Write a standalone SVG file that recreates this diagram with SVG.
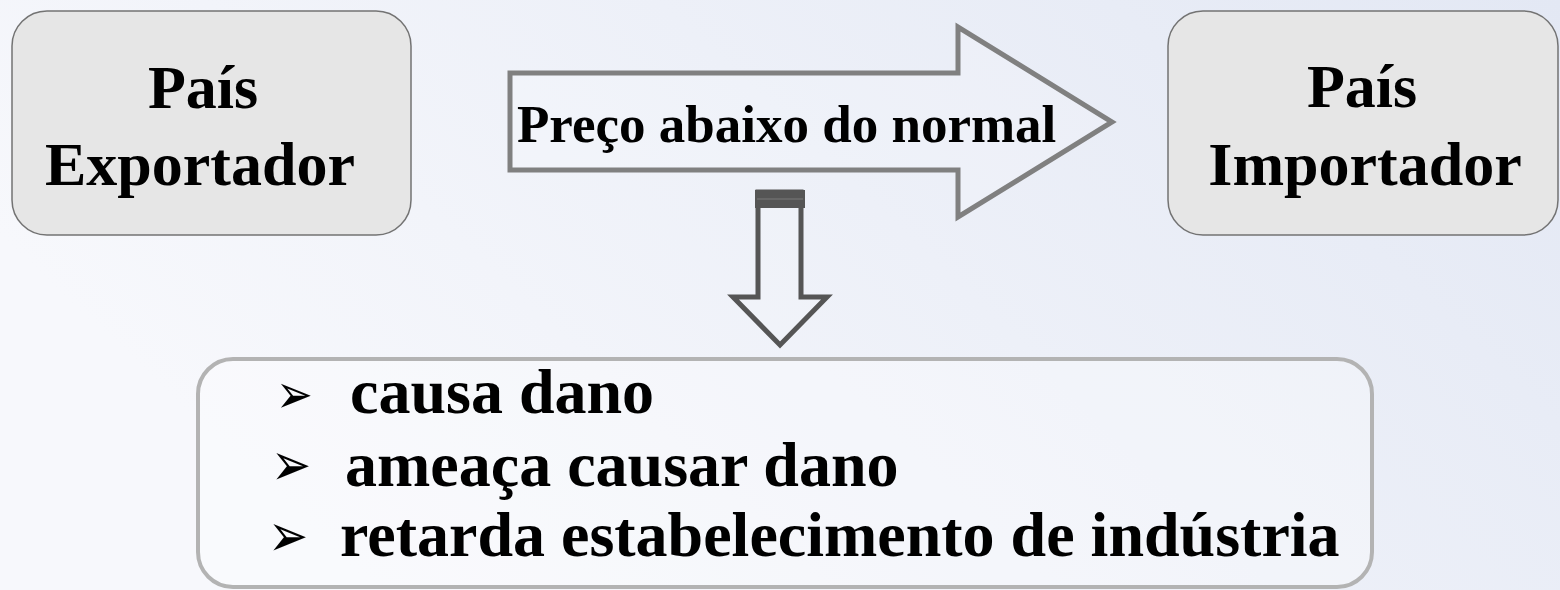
<svg xmlns="http://www.w3.org/2000/svg" width="1560" height="590" viewBox="0 0 1560 590">
  <defs>
    <linearGradient id="bg" x1="0" y1="0.4" x2="1" y2="0">
      <stop offset="0" stop-color="#f7f8fc"/>
      <stop offset="1" stop-color="#e3e8f4"/>
    </linearGradient>
    <style>
      .box { fill: #e6e6e6; stroke: #737373; stroke-width: 1.5; }
      .t { font-family: "Liberation Serif", "Times New Roman", serif; font-weight: bold; fill: #000; }
      .big { font-size: 62px; text-anchor: middle; }
      .item { font-size: 64px; }
      .bul { font-family: "DejaVu Sans", sans-serif; fill: #000; }
    </style>
  </defs>
  <rect x="0" y="0" width="1560" height="590" fill="url(#bg)"/>

  <g id="exportador">
    <rect class="box" x="12" y="11" width="399" height="224" rx="35" ry="35"/>
    <text class="t big" x="203" y="108">País</text>
    <text class="t big" x="200" y="185">Exportador</text>
  </g>

  <g id="importador">
    <rect class="box" x="1168" y="11" width="390" height="224" rx="35" ry="35"/>
    <text class="t big" x="1362" y="107">País</text>
    <text class="t big" x="1365" y="185">Importador</text>
  </g>

  <g id="connectors">
    <g id="preco-arrow">
      <polygon points="510,73 958,73 958,27 1112,122 958,217 958,170 510,170" fill="#ffffff" fill-opacity="0.15" stroke="#808080" stroke-width="5" stroke-linejoin="miter"/>
      <text class="t" x="517" y="142" font-size="53">Preço abaixo do normal</text>
    </g>
    <g id="down-arrow">
      <polygon points="758,192 801,192 801,297 827,297 780,345 733,297 758,297" fill="#ffffff" fill-opacity="0.1" stroke="#555555" stroke-width="5"/>
      <rect x="755" y="190" width="50" height="18" fill="#555555"/>
      <line x1="757" y1="199" x2="803" y2="199" stroke="#6e6e6e" stroke-width="1.5"/>
    </g>
  </g>

  <g id="efeitos">
    <rect x="198" y="359" width="1174" height="228" rx="35" ry="35" fill="#ffffff" fill-opacity="0.3" stroke="#b3b3b3" stroke-width="4"/>
    <text class="bul" transform="scale(1,1.25)" x="276" y="330.4" font-size="44">➢</text>
    <text class="bul" transform="scale(1,1.25)" x="271" y="388.3" font-size="48">➢</text>
    <text class="bul" transform="scale(1,1.25)" x="268" y="445.1" font-size="48">➢</text>
    <text class="t item" x="350" y="413">causa dano</text>
    <text class="t item" x="345" y="486">ameaça causar dano</text>
    <text class="t item" x="340" y="556">retarda estabelecimento de indústria</text>
  </g>
</svg>
